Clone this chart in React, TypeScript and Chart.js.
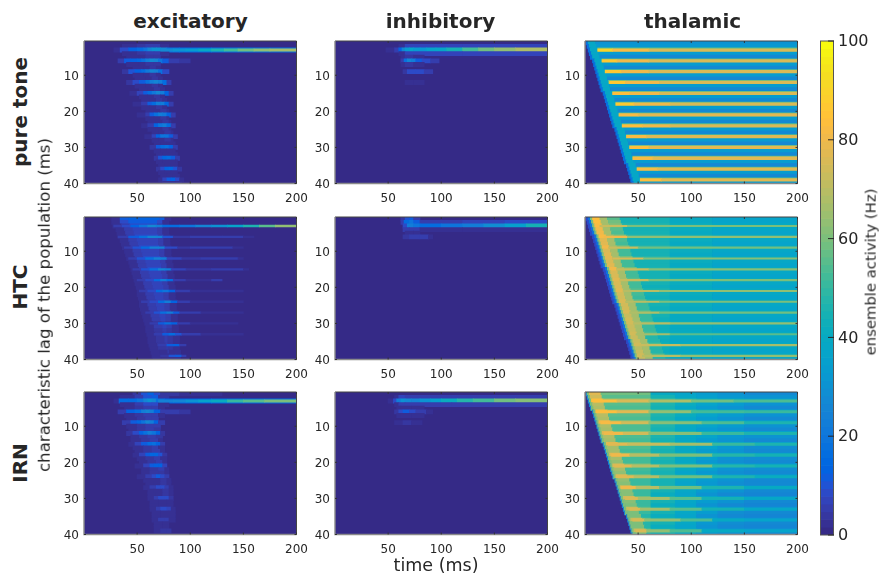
import React, { useEffect, useRef } from "react";
import { Chart, registerables } from "chart.js";

Chart.register(...registerables);

const columnTitles = ["excitatory", "inhibitory", "thalamic"];
const rowTitles = ["pure tone", "HTC", "IRN"];
const timeTicks = [50, 100, 150, 200];
const lagTicks = [10, 20, 30, 40];
const colorbarTicks = [0, 20, 40, 60, 80, 100];

const parula = [
  [53,42,135],[54,48,147],[54,55,160],[53,61,173],[50,67,186],[44,74,199],[32,83,212],[15,92,221],
  [3,99,225],[2,104,225],[4,109,224],[8,113,222],[13,117,220],[16,121,218],[18,125,216],[20,129,214],
  [20,133,212],[19,137,211],[16,142,210],[12,147,210],[9,152,209],[7,156,207],[6,160,205],[6,164,202],
  [6,167,198],[7,169,194],[10,172,190],[15,174,185],[21,177,180],[29,179,175],[37,181,170],[46,183,164],
  [56,185,158],[66,187,152],[77,188,146],[89,189,140],[101,190,134],[113,191,128],[124,191,123],[135,191,119],
  [146,191,115],[156,191,111],[165,190,107],[174,190,103],[183,189,100],[192,188,96],[200,188,93],[209,187,89],
  [217,186,86],[225,185,82],[233,185,78],[241,185,74],[248,187,68],[253,190,61],[255,195,55],[254,200,50],
  [252,206,46],[250,211,42],[247,216,38],[245,222,33],[245,228,29],[245,235,24],[246,243,19],[249,251,14],
];

// Each run: [row, t0, value, t1, value, ..., tEnd]
const toneExcCells = [
  [2, 36,2, 50,4, 58,6, 66,6, 72,3, 80],
  [3, 28,3, 34,9, 42,13, 50,16, 56,20, 60,26, 64,31, 68,30, 72,26, 78,18, 90,16, 120,18, 200],
  [4, 36,2, 50,4, 58,6, 66,6, 72,3, 80],
  [5, 40,2, 52,3, 58,4, 66,4, 72],
  [6, 32,5, 38,11, 44,13, 50,15, 54,18, 58,23, 62,27, 66,26, 70,20, 74,11, 80,6, 90,4, 100],
  [7, 40,2, 52,3, 58,4, 66,4, 72],
  [8, 46,2, 56,3, 62,4, 68,3, 72],
  [9, 36,4, 42,10, 48,13, 54,17, 58,21, 62,25, 66,24, 70,18, 74,8, 80],
  [10, 46,2, 56,3, 62,4, 68,3, 72],
  [11, 48,2, 58,3, 64,4, 70,3, 74],
  [12, 40,4, 46,8, 52,12, 58,18, 62,22, 66,25, 70,23, 74,16, 78,6, 82],
  [13, 48,2, 58,3, 64,4, 70,3, 74],
  [14, 52,2, 60,3, 66,4, 72,3, 76],
  [15, 43,3, 50,7, 56,11, 60,16, 64,21, 68,25, 72,23, 76,14, 80,5, 84],
  [16, 52,2, 60,3, 66,4, 72,3, 76],
  [17, 54,2, 62,3, 68,4, 74,3, 78],
  [18, 46,3, 54,6, 60,11, 64,17, 68,23, 72,22, 76,15, 80,5, 84],
  [19, 54,2, 62,3, 68,4, 74,3, 78],
  [20, 58,2, 66,3, 72,4, 78,2, 80],
  [21, 50,3, 58,6, 62,11, 66,18, 70,23, 74,21, 78,13, 82,5, 86],
  [22, 58,2, 66,3, 72,4, 78,2, 80],
  [23, 60,2, 68,3, 74,4, 80,2, 82],
  [24, 54,3, 60,6, 66,13, 70,20, 74,22, 78,17, 82,6, 86],
  [25, 60,2, 68,3, 74,4, 80,2, 82],
  [26, 64,2, 70,3, 76,4, 82,2, 84],
  [27, 57,3, 64,7, 68,14, 72,19, 76,19, 80,12, 84,5, 88],
  [28, 64,2, 70,3, 76,4, 82,2, 84],
  [29, 66,2, 72,3, 78,3, 84,2, 86],
  [30, 62,4, 68,11, 72,17, 76,18, 80,14, 84,6, 88],
  [31, 66,2, 72,3, 78,3, 84,2, 86],
  [32, 68,2, 74,3, 80,3, 86,2, 88],
  [33, 66,4, 70,10, 74,15, 78,16, 82,11, 86,5, 90],
  [34, 68,2, 74,3, 80,3, 86,2, 88],
  [35, 70,2, 76,3, 82,3, 88],
  [36, 68,4, 72,9, 76,13, 80,15, 84,10, 88,4, 92],
  [37, 70,2, 76,3, 82,3, 88],
  [38, 72,2, 78,2, 84,2, 90],
  [39, 70,3, 74,7, 78,11, 82,13, 86,8, 90,3, 94],
  [40, 74,2, 80,3, 86,2, 92],
];
const toneExcRidges = [
  [3, 72,28, 84,30, 96,34, 108,40, 120,46, 132,52, 145,58, 160,63, 175,66, 200],
];

const toneInhCells = [
  [2, 60,3, 66,7, 120,7, 200],
  [3, 48,3, 56,6, 60,14, 63,26, 66,34, 70,36, 74,34, 80,32, 86,36, 95,38, 105,44, 120,52, 135,58, 150,64, 170,68, 200],
  [4, 60,3, 66,7, 120,7, 200],
  [5, 62,2, 66,4, 74,3, 84],
  [6, 62,6, 65,18, 68,25, 72,22, 76,12, 82,8, 90,5, 98],
  [7, 62,2, 66,4, 74,3, 84],
  [9, 64,4, 68,8, 76,9, 84,5, 92],
  [12, 66,2, 74,3, 84],
];

const htcExcStart = [26,26,27,30,31,32,34,35,36,38,39,40,42,43,44,45,46,47,48,49,50,50,51,52,52,53,54,55,56,57,58,58,59,60,60,61,62,63,64,65];
const htcExcEnd = [76,74,74,74,74,75,75,75,76,76,76,77,77,78,78,78,79,79,79,80,80,80,80,81,81,81,82,82,82,82,83,83,83,84,84,84,84,85,85,85];
const htcExcLevel = [13,11,8,7,7,8,7,7,8,7,7,8,7,7,8,7,7,7,7,7,7,7,7,7,7,7,7,7,7,6,7,6,6,6,6,6,6,5,5,5];

const htcExcRidges = [
  [3, 28,5, 36,8, 44,14, 52,20, 60,28, 68,22, 74,16, 90,20, 105,26, 120,30, 135,36, 150,46, 165,56, 180,64, 200],
  [6, 32,5, 42,12, 52,18, 60,26, 68,24, 74,10, 84,4, 100,6, 130,5, 150,3, 160],
  [9, 38,5, 46,10, 54,16, 62,24, 70,24, 76,8, 88,4, 100,5, 140,3, 150],
  [12, 42,5, 50,10, 58,18, 66,24, 72,22, 78,7, 92,4, 110,5, 145,3, 150],
  [15, 46,5, 54,10, 62,18, 70,26, 76,22, 82,7, 96,4, 120,5, 150,3, 155],
  [18, 50,5, 58,9, 66,16, 72,22, 78,16, 84,6, 96,3, 120,5, 130],
  [21, 52,5, 60,9, 68,16, 74,20, 80,14, 86,6, 100,3, 150],
  [24, 54,5, 62,9, 70,16, 76,22, 82,14, 88,6, 100,3, 150],
  [27, 58,5, 66,10, 72,18, 78,22, 84,12, 90,6, 110,3, 150],
  [30, 62,5, 70,12, 76,18, 82,14, 88,6, 100,3, 145],
  [33, 66,5, 74,12, 80,17, 86,10, 92,5, 110,3, 150],
  [36, 70,5, 78,12, 84,14, 90,6, 96],
  [39, 72,4, 80,10, 86,12, 92,5, 96],
];

const htcInhCells = [
  [1, 62,4, 66,10, 70,12, 74,6, 80],
  [2, 62,5, 65,16, 70,20, 74,12, 80,6, 120,7, 160,8, 200],
  [3, 64,8, 68,22, 74,20, 80,17, 100,19, 120,23, 140,29, 160,35, 180,44, 200],
  [4, 64,5, 70,6, 80,3, 120,3, 200],
  [5, 66,2, 74,2, 80],
  [6, 64,4, 70,6, 80,5, 88,3, 92],
];

const irnExcCells = [
  [1, 46,4, 54,10, 60,13, 66,8, 72,4, 90,3, 130],
  [2, 34,3, 48,6, 56,10, 64,12, 70,4, 80],
  [3, 28,2, 33,16, 42,16, 50,20, 56,26, 60,31, 64,28, 68,18, 76,14, 120,16, 200],
  [4, 34,3, 48,5, 56,8, 64,8, 70,3, 80],
  [5, 38,2, 48,4, 56,6, 64,5, 70,3, 76],
  [6, 32,6, 40,13, 48,16, 54,22, 58,26, 62,22, 66,13, 72,5, 90,4, 100],
  [7, 38,2, 48,4, 56,6, 64,5, 70,3, 76],
  [8, 40,2, 50,4, 58,6, 64,5, 70],
  [9, 36,5, 44,11, 50,15, 54,20, 58,25, 62,23, 66,14, 70,5, 76],
  [10, 40,2, 50,4, 58,6, 66,5, 72],
  [11, 42,2, 50,4, 58,5, 66,4, 72],
  [12, 40,4, 46,8, 52,14, 56,18, 60,22, 64,20, 68,13, 72,4, 76],
  [13, 44,2, 52,4, 60,5, 68,4, 74],
  [14, 44,2, 54,4, 62,5, 70,3, 74],
  [15, 42,3, 48,7, 54,11, 60,16, 64,18, 68,13, 72,5, 76],
  [16, 46,2, 56,4, 64,5, 70,3, 76],
  [17, 48,2, 56,4, 64,5, 72,3, 76],
  [18, 46,3, 52,7, 58,11, 62,15, 66,15, 70,10, 74,4, 78],
  [19, 50,2, 58,4, 66,5, 72,3, 78],
  [20, 52,2, 60,4, 68,5, 74,3, 78],
  [21, 48,3, 56,7, 62,11, 66,14, 70,13, 74,7, 78],
  [22, 54,2, 62,4, 70,5, 76,2, 80],
  [23, 54,2, 62,4, 70,4, 76,2, 80],
  [24, 50,3, 58,6, 64,9, 68,11, 72,9, 76,5, 80],
  [25, 56,2, 64,3, 72,4, 78,2, 82],
  [26, 58,2, 66,3, 72,4, 78,2, 82],
  [27, 56,3, 62,5, 68,8, 72,9, 76,6, 80,3, 84],
  [28, 60,2, 66,3, 74,4, 80,2, 84],
  [29, 60,2, 68,3, 74,4, 80,2, 84],
  [30, 60,3, 66,5, 70,8, 76,8, 80,4, 84],
  [31, 62,2, 70,3, 78,2, 84],
  [32, 62,2, 70,3, 78,2, 84],
  [33, 62,3, 68,5, 72,8, 78,7, 82,3, 86],
  [34, 64,2, 72,3, 80,2, 86],
  [35, 64,2, 72,3, 80,2, 86],
  [36, 64,3, 70,5, 76,6, 80,3, 86],
  [37, 66,2, 74,2, 80],
  [38, 66,2, 74,2, 80],
  [39, 66,3, 72,4, 78,4, 82],
];
const irnExcRidges = [
  [3, 70,24, 84,26, 96,30, 108,36, 120,42, 135,50, 150,56, 170,60, 200],
];

const irnInhCells = [
  [2, 56,3, 60,7, 66,6, 110,6, 200],
  [3, 50,3, 55,8, 58,22, 62,30, 66,27, 72,26, 80,31, 90,35, 100,41, 115,47, 130,53, 150,58, 170,62, 200],
  [4, 56,3, 60,6, 66,6, 110,6, 200],
  [5, 58,2, 62,3, 72,2, 84],
  [6, 56,4, 60,8, 64,11, 70,9, 76,6, 86,3, 92],
  [7, 58,2, 62,3, 72,2, 84],
  [9, 56,2, 64,4, 72,3, 82],
];

const sweepOnset = [1,2,3,4,5,7,8,9,10,11,12,13,14,15,17,18,19,20,21,22,23,24,25,26,28,29,30,31,32,33,34,35,36,37,39,40,41,42,43,44];

const toneThalLate = [30,32,55,33,28,55,33,28,55,33,28,55,33,28,55,33,28,55,33,28,55,33,28,55,33,28,55,33,28,55,33,28,55,33,28,55,33,28,55,33];
const toneThalRidges = [
  [3, 12,90, 26,82, 60,75, 200],
  [6, 16,86, 30,80, 60,75, 200],
  [9, 19,86, 34,80, 60,75, 200],
  [12, 23,86, 38,80, 70,75, 200],
  [15, 26,84, 42,80, 70,75, 200],
  [18, 29,86, 46,80, 80,75, 200],
  [21, 32,82, 50,77, 200],
  [24, 35,84, 54,80, 80,75, 200],
  [27, 39,82, 58,77, 200],
  [30, 42,84, 60,77, 200],
  [33, 45,82, 64,77, 200],
  [36, 49,82, 68,77, 200],
  [39, 52,84, 72,77, 200],
];

const htcThalBright = [84,84,82,80,80,82,78,78,80,76,78,78,76,78,80,76,76,78,76,76,78,74,74,76,74,74,76,72,74,74,72,72,74,72,72,74,70,72,74,72];
const htcThalMid = [56,58,62,56,54,60,54,52,58,52,52,58,52,52,58,52,52,56,52,52,56,52,50,56,50,50,56,50,50,54,50,50,54,48,48,54,48,48,54,48];
const htcThalBody = [44,44,47,45,44,47,45,44,47,45,44,47,45,44,46,44,44,46,44,43,46,44,43,46,44,43,46,44,43,45,43,43,45,43,42,45,43,42,45,43];
const htcThalNext = [40,40,43,41,40,43,41,40,43,41,40,43,41,40,43,41,40,43,41,40,42,41,40,42,41,40,42,40,40,42,40,40,42,40,39,42,40,39,42,40];
const htcThalLate = [37,37,40,38,37,40,38,37,40,38,37,40,38,37,40,38,37,40,38,37,40,38,37,40,38,37,40,38,37,40,38,37,40,38,37,40,38,37,40,38];
const htcThalRidges = [
  [3, 14,72, 40,60, 200],
  [6, 18,80, 40,64, 200],
  [9, 22,72, 50,59, 200],
  [12, 26,76, 55,62, 200],
  [15, 30,72, 60,61, 200],
  [18, 33,72, 60,60, 200],
  [21, 36,70, 70,63, 200],
  [24, 38,70, 70,60, 200],
  [27, 42,68, 70,58, 200],
  [30, 46,70, 80,64, 200],
  [33, 48,66, 80,56, 200],
  [36, 52,72, 90,67, 200],
  [39, 54,70, 90,63, 200],
];

const irnThalBright = [78,74,84,70,68,82,70,68,80,68,66,78,68,66,78,66,66,78,66,64,76,66,64,76,64,62,74,62,62,74,62,60,72,60,60,72,60,60,72,60];
const irnThalNear = [58,56,66,56,54,64,56,54,64,54,54,62,54,52,62,54,52,60,52,52,60,52,50,58,50,50,58,50,50,58,50,50,56,50,48,56,48,48,56,48];
const irnThalMid = [40,44,52,46,44,52,46,44,50,46,44,50,46,44,50,46,44,48,46,44,48,46,44,48,44,44,48,44,42,46,44,42,46,44,42,46,44,42,46,44];
const irnThalMid2 = [36,39,47,41,38,47,41,38,46,40,38,46,40,38,45,40,38,44,40,38,44,40,37,43,39,37,43,39,36,42,39,36,42,38,36,41,38,36,41,38];
const irnThalLate = [33,35,43,37,34,43,37,34,42,36,33,42,36,33,40,36,33,39,35,32,39,35,32,38,34,32,37,34,31,36,33,31,36,33,31,35,32,30,35,32];
const irnThalLate2 = [30,32,40,34,31,40,34,30,38,33,30,38,32,30,37,32,30,36,31,29,36,31,29,34,30,29,34,30,28,33,30,28,33,29,28,32,29,27,32,29];
const irnThalFar = [28,30,37,31,28,36,31,28,35,30,28,35,30,28,34,29,28,33,29,27,33,29,27,32,28,27,31,28,26,31,28,26,30,27,26,30,27,25,30,27];
const irnThalRidges = [
  [3, 8,84, 30,76, 60,68, 100,58, 140,54, 200],
  [6, 11,84, 30,78, 60,64, 100,52, 150,50, 200],
  [9, 15,82, 34,74, 60,62, 110,54, 150,46, 200],
  [12, 18,80, 36,74, 60,62, 110,50, 150,46, 200],
  [15, 22,78, 40,72, 80,66, 120,50, 160,46, 200],
  [18, 25,80, 42,70, 70,60, 120,48, 160,44, 200],
  [21, 28,78, 44,70, 70,60, 120,48, 160,44, 200],
  [24, 31,78, 46,70, 70,58, 120,46, 160,42, 200],
  [27, 34,80, 48,70, 70,58, 110,46, 150,40, 200],
  [30, 38,76, 50,66, 80,56, 110,44, 150,38, 200],
  [33, 42,76, 52,66, 80,56, 110,44, 150,38, 200],
  [36, 45,76, 56,64, 90,54, 120,40, 150,36, 200],
  [39, 48,76, 58,64, 80,54, 110,40, 150,36, 200],
];

function colorOf(value: number) {
  const i = Math.max(0, Math.min(63, Math.floor((value / 100) * 64)));
  const [r, g, b] = parula[i];
  return `rgb(${r},${g},${b})`;
}

type Bar = { x: [number, number]; y: number };

function runsToSeries(runs: number[][]) {
  const data: Bar[] = [];
  const colors: string[] = [];
  for (const run of runs) {
    for (let i = 1; i + 2 < run.length; i += 2) {
      if (run[i + 2] > run[i]) {
        data.push({ x: [run[i], run[i + 2]], y: run[0] });
        colors.push(colorOf(run[i + 1]));
      }
    }
  }
  return { data, colors };
}

function diffuseRuns() {
  return htcExcStart.map((s, i) => [i + 1, s, 3, s + 8, htcExcLevel[i] - 2, s + 16, htcExcLevel[i], htcExcEnd[i] - 5, htcExcLevel[i] - 2, htcExcEnd[i], 3, htcExcEnd[i] + 6]);
}

// stages: [offset from the row's onset, value(s)], then [absolute time, values]
function sweepRuns(stages: [number, number | number[]][], later: [number, number[]][] = []) {
  return sweepOnset.map((on, i) => {
    const run = [i + 1];
    for (const [off, v] of stages) run.push(on + off, typeof v === "number" ? v : v[i]);
    for (const [t, v] of later) run.push(t, v[i]);
    run.push(200);
    return run;
  });
}

const panels: { cells: number[][]; ridges: number[][]; ridgeWidth: number }[] = [
  { cells: toneExcCells, ridges: toneExcRidges, ridgeWidth: 2.4 },
  { cells: toneInhCells, ridges: [], ridgeWidth: 2 },
  { cells: sweepRuns([[0, 18], [2, 38], [9, toneThalLate]]), ridges: toneThalRidges, ridgeWidth: 2.6 },
  { cells: diffuseRuns(), ridges: htcExcRidges, ridgeWidth: 1.7 },
  { cells: htcInhCells, ridges: [], ridgeWidth: 2 },
  { cells: sweepRuns([[0, 9], [2, 20], [4, 60], [6, htcThalBright], [13, 66], [20, htcThalMid], [32, htcThalBody]], [[80, htcThalNext], [120, htcThalLate]]), ridges: htcThalRidges, ridgeWidth: 1.5 },
  { cells: irnExcCells, ridges: irnExcRidges, ridgeWidth: 2.2 },
  { cells: irnInhCells, ridges: [], ridgeWidth: 2 },
  { cells: sweepRuns([[0, 26], [1, 60], [3, irnThalBright], [14, irnThalNear]], [[62, irnThalMid], [85, irnThalMid2], [105, irnThalLate], [125, irnThalLate2], [150, irnThalFar]]), ridges: irnThalRidges, ridgeWidth: 2.4 },
];

const COL_LEFT = [84, 334.5, 585];
const ROW_TOP = [41, 216.5, 392];
const PANEL_W = 212.5;
const PANEL_H = 142.5;
const GUTTER_L = 34;
const GUTTER_R = 15.5;
const GUTTER_T = 6;
const GUTTER_B = 26.5;
const INK = "#262626";
const FONT = "'DejaVu Sans'";

const framePlugin = {
  id: "frame",
  afterDraw(chart: any) {
    const { ctx, chartArea: a, scales } = chart;
    ctx.save();
    ctx.lineWidth = 1;
    ctx.strokeStyle = "#444444";
    ctx.beginPath();
    ctx.moveTo(a.left, a.top);
    ctx.lineTo(a.right, a.top);
    ctx.lineTo(a.right, a.bottom);
    ctx.stroke();
    ctx.strokeStyle = "#8a8a8a";
    ctx.lineWidth = 1.4;
    ctx.beginPath();
    ctx.moveTo(a.left, a.top);
    ctx.lineTo(a.left, a.bottom);
    ctx.lineTo(a.right, a.bottom);
    ctx.stroke();
    ctx.strokeStyle = "#333333";
    ctx.lineWidth = 1;
    ctx.beginPath();
    for (const t of scales.x.ticks) {
      const p = scales.x.getPixelForValue(t.value);
      ctx.moveTo(p, a.bottom); ctx.lineTo(p, a.bottom - 2);
      ctx.moveTo(p, a.top); ctx.lineTo(p, a.top + 2);
    }
    for (const t of scales.y.ticks) {
      const p = scales.y.getPixelForValue(t.value);
      ctx.moveTo(a.left, p); ctx.lineTo(a.left + 2, p);
      ctx.moveTo(a.right, p); ctx.lineTo(a.right - 2, p);
    }
    ctx.stroke();
    ctx.restore();
  },
};

const fillPlugin = {
  id: "fill",
  beforeDatasetsDraw(chart: any) {
    const { ctx, chartArea: a } = chart;
    ctx.save();
    ctx.fillStyle = colorOf(0);
    ctx.fillRect(a.left, a.top, a.right - a.left, a.bottom - a.top);
    ctx.restore();
  },
};

function Panel({ index }: { index: number }) {
  const ref = useRef<HTMLCanvasElement>(null);
  useEffect(() => {
    const p = panels[index];
    const cells = runsToSeries(p.cells);
    const ridges = runsToSeries(p.ridges);
    const tickFont = { family: FONT, size: 12 };
    const chart = new Chart(ref.current as HTMLCanvasElement, {
      type: "bar",
      data: {
        datasets: [
          { data: cells.data as any, backgroundColor: cells.colors, barThickness: 4.2, grouped: false, borderWidth: 0, order: 2 },
          { data: ridges.data as any, backgroundColor: ridges.colors, barThickness: p.ridgeWidth, grouped: false, borderWidth: 0, order: 1 },
        ],
      },
      options: {
        indexAxis: "y",
        responsive: false,
        animation: false,
        events: [],
        layout: { padding: { left: 0, top: GUTTER_T, right: GUTTER_R, bottom: 0 } },
        plugins: { legend: { display: false }, tooltip: { enabled: false } },
        scales: {
          x: {
            type: "linear", min: 0, max: 200, grid: { display: false, drawTicks: false }, border: { display: false },
            afterBuildTicks: (s: any) => { s.ticks = timeTicks.map((value) => ({ value })); },
            afterFit: (s: any) => { s.height = GUTTER_B; s.paddingLeft = 0; s.paddingRight = 0; s.paddingTop = 0; s.paddingBottom = 0; },
            ticks: { font: tickFont, color: INK, padding: 8, maxRotation: 0, autoSkip: false },
          },
          y: {
            type: "linear", reverse: true, offset: false, min: 0.5, max: 40, grid: { display: false, drawTicks: false }, border: { display: false },
            afterBuildTicks: (s: any) => { s.ticks = lagTicks.map((value) => ({ value })); },
            afterFit: (s: any) => { s.width = GUTTER_L; s.paddingLeft = 0; s.paddingRight = 0; s.paddingTop = 0; s.paddingBottom = 0; },
            ticks: { font: tickFont, color: INK, padding: 5, autoSkip: false, labelOffset: 1.5 },
          },
        },
      } as any,
      plugins: [fillPlugin, framePlugin],
    });
    return () => chart.destroy();
  }, [index]);
  const col = index % 3;
  const row = Math.floor(index / 3);
  return (
    <canvas
      ref={ref}
      width={GUTTER_L + PANEL_W + GUTTER_R}
      height={GUTTER_T + PANEL_H + GUTTER_B}
      style={{ position: "absolute", left: COL_LEFT[col] - GUTTER_L, top: ROW_TOP[row] - GUTTER_T }}
    />
  );
}

function Colorbar() {
  const ref = useRef<HTMLCanvasElement>(null);
  useEffect(() => {
    const data = parula.map((_, i) => ({ x: 0.5, y: [(i * 100) / 64, ((i + 1) * 100) / 64] }));
    const chart = new Chart(ref.current as HTMLCanvasElement, {
      type: "bar",
      data: {
        datasets: [{ data: data as any, backgroundColor: parula.map((c) => `rgb(${c.join(",")})`), barThickness: 15, grouped: false, borderWidth: 0 }],
      },
      options: {
        responsive: false,
        animation: false,
        events: [],
        layout: { padding: { left: 0, top: 12, right: 0, bottom: 12 } },
        plugins: { legend: { display: false }, tooltip: { enabled: false } },
        scales: {
          x: { type: "linear", offset: false, min: 0, max: 1, display: false },
          y: {
            type: "linear", position: "right", min: 0, max: 100, grid: { display: false, drawTicks: false }, border: { display: false },
            afterBuildTicks: (s: any) => { s.ticks = colorbarTicks.map((value) => ({ value })); },
            afterFit: (s: any) => { s.width = 46; s.paddingTop = 0; s.paddingBottom = 0; },
            ticks: { font: { family: FONT, size: 16 }, color: INK, padding: 4, autoSkip: false, labelOffset: 1 },
          },
        },
      } as any,
      plugins: [
        {
          id: "barFrame",
          afterDraw(c: any) {
            const { ctx, chartArea: a, scales } = c;
            ctx.save();
            ctx.strokeStyle = "#555555";
            ctx.lineWidth = 1;
            ctx.strokeRect(a.left + 0.5, a.top, a.right - a.left - 1, a.bottom - a.top);
            ctx.strokeStyle = "#262626";
            ctx.beginPath();
            for (const t of scales.y.ticks) {
              const p = scales.y.getPixelForValue(t.value);
              ctx.moveTo(a.right, p);
              ctx.lineTo(a.right - 6, p);
            }
            ctx.stroke();
            ctx.restore();
          },
        },
      ],
    });
    return () => chart.destroy();
  }, []);
  return <canvas ref={ref} width={60} height={518} style={{ position: "absolute", left: 820, top: 28.5 }} />;
}

function Label({ text, x, y, size, bold, vertical }: { text: string; x: number; y: number; size: number; bold?: boolean; vertical?: boolean }) {
  return (
    <div
      style={{
        position: "absolute", left: x, top: y, whiteSpace: "nowrap", fontFamily: FONT, fontSize: size,
        fontWeight: bold ? 700 : 400, color: INK, lineHeight: 1,
        transform: `translate(-50%, -50%)${vertical ? " rotate(-90deg)" : ""}`,
      }}
    >
      {text}
    </div>
  );
}

export default function App() {
  return (
    <div style={{ position: "absolute", left: 0, top: 0, width: 880, height: 574, background: "#fff", overflow: "hidden" }}>
      {panels.map((_, i) => <Panel key={i} index={i} />)}
      <Colorbar />
      {columnTitles.map((t, i) => <Label key={t} text={t} x={[190.5, 440.5, 692.5][i]} y={21} size={20} bold />)}
      {rowTitles.map((t, i) => <Label key={t} text={t} x={20} y={[112, 287, 463][i]} size={20} bold vertical />)}
      <Label text="characteristic lag of the population (ms)" x={45} y={305} size={16.6} vertical />
      <Label text="time (ms)" x={436} y={566} size={17.5} />
      <Label text="ensemble activity (Hz)" x={871} y={272} size={14.8} vertical />
    </div>
  );
}
